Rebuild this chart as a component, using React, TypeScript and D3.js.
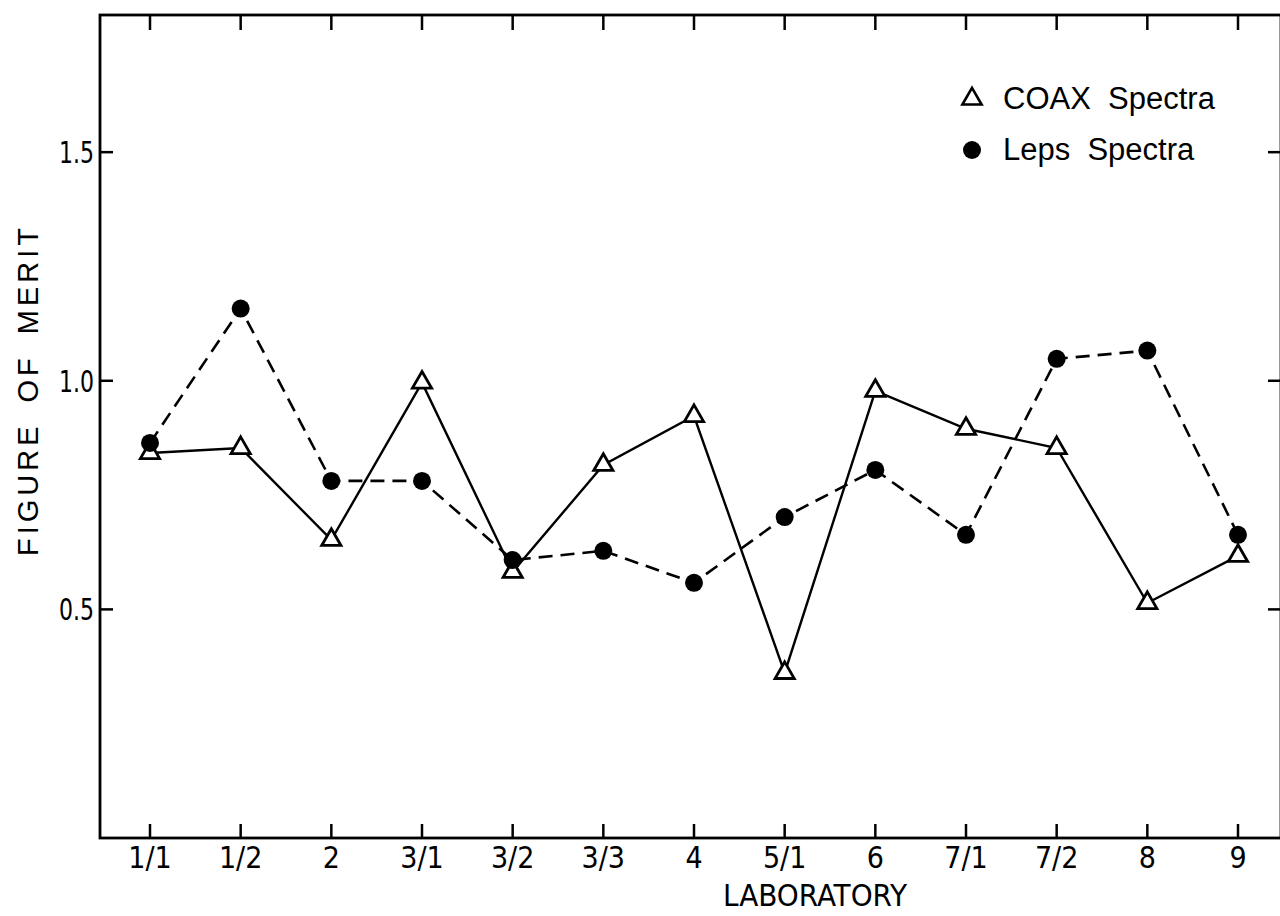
import React, { useRef, useEffect } from 'react';
import * as d3 from 'd3';

const labs = ['1/1', '1/2', '2', '3/1', '3/2', '3/3', '4', '5/1', '6', '7/1', '7/2', '8', '9'];
const coax = [0.842, 0.853, 0.652, 0.996, 0.582, 0.816, 0.923, 0.361, 0.978, 0.895, 0.853, 0.514, 0.617];
const leps = [0.864, 1.158, 0.781, 0.781, 0.608, 0.628, 0.558, 0.702, 0.805, 0.663, 1.048, 1.066, 0.663];
const yTicks = [0.5, 1.0, 1.5];
const yTickText = ['0.5', '1.0', '1.5'];

const narrow = "'Liberation Sans Narrow', 'DejaVu Sans Condensed', sans-serif";
const regular = "'Liberation Sans', Arial, sans-serif";

const App = () => {
  const svgRef = useRef<SVGSVGElement | null>(null);

  useEffect(() => {
    d3.select(svgRef.current).selectAll('*').remove();
    const svg = d3.select(svgRef.current);

    const left = 100, right = 1281, top = 15, bottom = 838;

    const x = d3.scalePoint<string>().domain(labs).range([150, 1238]);
    const y = d3.scaleLinear().domain([0, 1.8]).range([bottom, top]);

    // frame
    svg
      .append('rect')
      .attr('x', left)
      .attr('y', top)
      .attr('width', right - left)
      .attr('height', bottom - top)
      .attr('fill', 'none')
      .attr('stroke', '#000')
      .attr('stroke-width', 2.8);

    // x ticks (bottom + top)
    const xt = svg.append('g');
    labs.forEach((l) => {
      xt.append('line')
        .attr('x1', x(l)!).attr('x2', x(l)!)
        .attr('y1', bottom).attr('y2', bottom - 14)
        .attr('stroke', '#000').attr('stroke-width', 2.5);
      xt.append('line')
        .attr('x1', x(l)!).attr('x2', x(l)!)
        .attr('y1', top).attr('y2', top + 15)
        .attr('stroke', '#000').attr('stroke-width', 2.5);
      xt.append('text')
        .attr('x', x(l)!)
        .attr('y', 868)
        .attr('text-anchor', 'middle')
        .style('font-family', narrow)
        .style('font-size', '30px')
        .text(l);
    });

    // y ticks (left + right)
    const yt = svg.append('g');
    yTicks.forEach((v, i) => {
      yt.append('line')
        .attr('x1', left).attr('x2', left + 13)
        .attr('y1', y(v)).attr('y2', y(v))
        .attr('stroke', '#000').attr('stroke-width', 2.5);
      yt.append('line')
        .attr('x1', right - 13).attr('x2', right)
        .attr('y1', y(v)).attr('y2', y(v))
        .attr('stroke', '#000').attr('stroke-width', 2.5);
      yt.append('text')
        .attr('x', 94)
        .attr('y', y(v) + 11)
        .attr('text-anchor', 'end')
        .attr('textLength', 35)
        .attr('lengthAdjust', 'spacingAndGlyphs')
        .style('font-family', narrow)
        .style('font-size', '31px')
        .text(yTickText[i]);
    });

    // axis titles
    svg
      .append('text')
      .attr('x', 815)
      .attr('y', 906)
      .attr('text-anchor', 'middle')
      .style('font-family', narrow)
      .style('font-size', '31px')
      .text('LABORATORY');

    svg
      .append('text')
      .attr('transform', 'translate(38,390) rotate(-90)')
      .attr('text-anchor', 'middle')
      .style('font-family', regular)
      .style('font-size', '29px')
      .style('letter-spacing', '4px')
      .style('word-spacing', '8px')
      .text('FIGURE OF MERIT');

    const line = d3
      .line<number>()
      .x((_, i) => x(labs[i])!)
      .y((d) => y(d));

    // COAX: solid line, open triangles
    svg
      .append('path')
      .datum(coax)
      .attr('d', line)
      .attr('fill', 'none')
      .attr('stroke', '#000')
      .attr('stroke-width', 2.4);

    const tri = d3.symbol().type(d3.symbolTriangle).size(160);
    svg
      .append('g')
      .selectAll('path')
      .data(coax)
      .join('path')
      .attr('d', tri)
      .attr('transform', (d, i) => `translate(${x(labs[i])},${y(d)})`)
      .attr('fill', '#fff')
      .attr('stroke', '#000')
      .attr('stroke-width', 2.8);

    // Leps: dashed line, filled circles
    svg
      .append('path')
      .datum(leps)
      .attr('d', line)
      .attr('fill', 'none')
      .attr('stroke', '#000')
      .attr('stroke-width', 2.6)
      .attr('stroke-dasharray', '14,8');

    svg
      .append('g')
      .selectAll('circle')
      .data(leps)
      .join('circle')
      .attr('cx', (d, i) => x(labs[i])!)
      .attr('cy', (d) => y(d))
      .attr('r', 9)
      .attr('fill', '#000');

    // legend
    const lg = svg.append('g');
    lg.append('path')
      .attr('d', tri)
      .attr('transform', 'translate(972,99)')
      .attr('fill', '#fff')
      .attr('stroke', '#000')
      .attr('stroke-width', 2.6);
    lg.append('circle').attr('cx', 972).attr('cy', 150).attr('r', 9).attr('fill', '#000');
    lg.append('text')
      .attr('x', 1003).attr('y', 109)
      .style('font-family', regular)
      .style('font-size', '31px')
      .style('white-space', 'pre')
      .text('COAX  Spectra');
    lg.append('text')
      .attr('x', 1003).attr('y', 160)
      .style('font-family', regular)
      .style('font-size', '31px')
      .style('white-space', 'pre')
      .text('Leps  Spectra');
  }, []);

  return (
    <svg
      ref={svgRef}
      width={1280}
      height={916}
      style={{ position: 'absolute', left: 0, top: 0, background: '#fff' }}
    ></svg>
  );
};

export default App;
